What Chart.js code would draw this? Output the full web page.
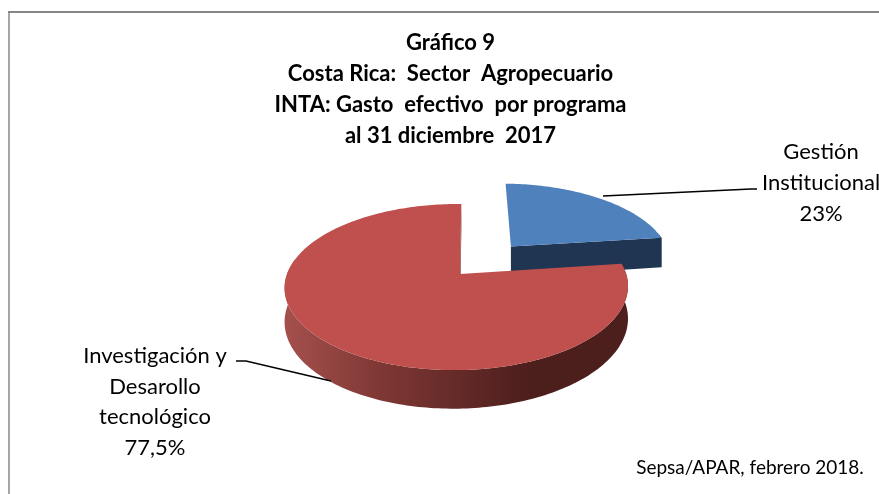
<!DOCTYPE html>
<html><head><meta charset="utf-8">
<script src="https://cdn.jsdelivr.net/npm/chart.js@4"></script>
<style>html,body{margin:0;padding:0;background:#fff}canvas{display:block}</style>
</head><body><canvas id="c" width="879" height="494"></canvas>
<script>
const categories = ['Gestión Institucional', 'Investigación y Desarollo tecnológico'];
const values = [23, 77.5];
const sliceExplode = [0.48, 0];
const sliceColors = ['#4f81bd', '#c0504d'];
const titleLines = ['Gráfico 9', 'Costa Rica:  Sector  Agropecuario', 'INTA: Gasto  efectivo  por programa', 'al 31 diciembre  2017'];
const labelLines = [['Gestión', 'Institucional', '23%'], ['Investigación y', 'Desarollo', 'tecnológico', '77,5%']];
const sourceNote = 'Sepsa/APAR, febrero 2018.';
const FONT = 'Lato, Carlito, "Open Sans", sans-serif';

const cam = {x0: 460, y0: 274, A: 81, B: 169.5, C: -1.5, D: 32.5, k: 0.157, m: 0.02};
function project(u, v, z) {
  const w = 1 - cam.k * v + cam.m * u;
  return [cam.x0 + (cam.B * u + cam.C * v) / w, cam.y0 + (cam.A * v + cam.D * z) / w];
}
function polygon(ctx, pts) {
  ctx.beginPath();
  pts.forEach((p, i) => i ? ctx.lineTo(p[0], p[1]) : ctx.moveTo(p[0], p[1]));
  ctx.closePath();
}
const pie3d = {
  id: 'pie3d',
  beforeDatasetDraw(chart, args) {
    const ctx = chart.ctx;
    args.meta.data.forEach((arc, i) => {
      const a0 = arc.startAngle, a1 = arc.endAngle, mid = (a0 + a1) / 2;
      const ox = sliceExplode[i] * Math.cos(mid), oy = sliceExplode[i] * Math.sin(mid);
      const steps = Math.max(12, Math.round((a1 - a0) * 50));
      const rim = [], front = [];
      for (let s = 0; s <= steps; s++) {
        const a = a0 + (a1 - a0) * s / steps;
        const p = [ox + Math.cos(a), oy + Math.sin(a)];
        rim.push(p);
        if (Math.sin(a) > -0.2) front.push(p);
      }
      const P = (p, z) => project(p[0], p[1], z);
      const apex = [ox, oy];
      // radial wall
      ctx.fillStyle = i === 1 ? '#4c1e1c' : '#1f3552';
      polygon(ctx, [P(apex, 0), P(rim[steps], 0), P(rim[steps], 1), P(apex, 1)]);
      ctx.fill();
      // outer wall
      const grad = ctx.createLinearGradient(285, 0, 530, 0);
      if (i === 1) {
        grad.addColorStop(0, '#a4504d'); grad.addColorStop(0.4, '#7e3734');
        grad.addColorStop(1, '#4c1e1c');
      } else {
        grad.addColorStop(0, '#1f3552'); grad.addColorStop(1, '#1f3552');
      }
      ctx.fillStyle = grad;
      if (front.length) {
        polygon(ctx, front.map(p => P(p, 0)).concat(front.slice().reverse().map(p => P(p, 1))));
        ctx.fill();
      }
      // top face
      ctx.fillStyle = arc.options.backgroundColor;
      polygon(ctx, [P(apex, 0)].concat(rim.map(p => P(p, 0))));
      ctx.fill();
    });
    return false;
  },
  afterDraw(chart) {
    const ctx = chart.ctx;
    ctx.save();
    // leader lines
    ctx.strokeStyle = '#000'; ctx.lineWidth = 1.5;
    [[[603, 196], [751, 189], [757, 189]], [[331, 381], [246, 361], [236, 361]]].forEach(l => {
      ctx.beginPath();
      l.forEach((p, i) => i ? ctx.lineTo(p[0], p[1]) : ctx.moveTo(p[0], p[1]));
      ctx.stroke();
    });
    // labels
    ctx.fillStyle = '#000'; ctx.textAlign = 'center'; ctx.textBaseline = 'middle';
    ctx.font = '22px ' + FONT;
    labelLines[0].forEach((t, i) => ctx.fillText(t, 821, 152 + i * 31));
    labelLines[1].forEach((t, i) => ctx.fillText(t, 155, 356 + i * 30.5));
    ctx.font = '19px ' + FONT;
    ctx.fillText(sourceNote, 750, 468);
    // frame
    ctx.lineWidth = 2;
    ctx.strokeStyle = '#a6a6a6';
    ctx.beginPath(); ctx.moveTo(9, 494); ctx.lineTo(9, 12); ctx.stroke();
    ctx.strokeStyle = '#868686';
    ctx.beginPath(); ctx.moveTo(8, 12); ctx.lineTo(879, 12); ctx.stroke();
    ctx.restore();
  }
};
new Chart(document.getElementById('c'), {
  type: 'pie',
  data: {labels: categories, datasets: [{data: values, backgroundColor: sliceColors, borderWidth: 0}]},
  options: {
    responsive: false, animation: false,
    layout: {padding: {left: 22, top: 27}},
    plugins: {
      legend: {display: false}, tooltip: {enabled: false},
      title: {display: true, text: titleLines, color: '#000',
        font: {family: FONT, size: 22, weight: 'bold', lineHeight: 1.42}, padding: 0}
    }
  },
  plugins: [pie3d]
});
</script></body></html>
